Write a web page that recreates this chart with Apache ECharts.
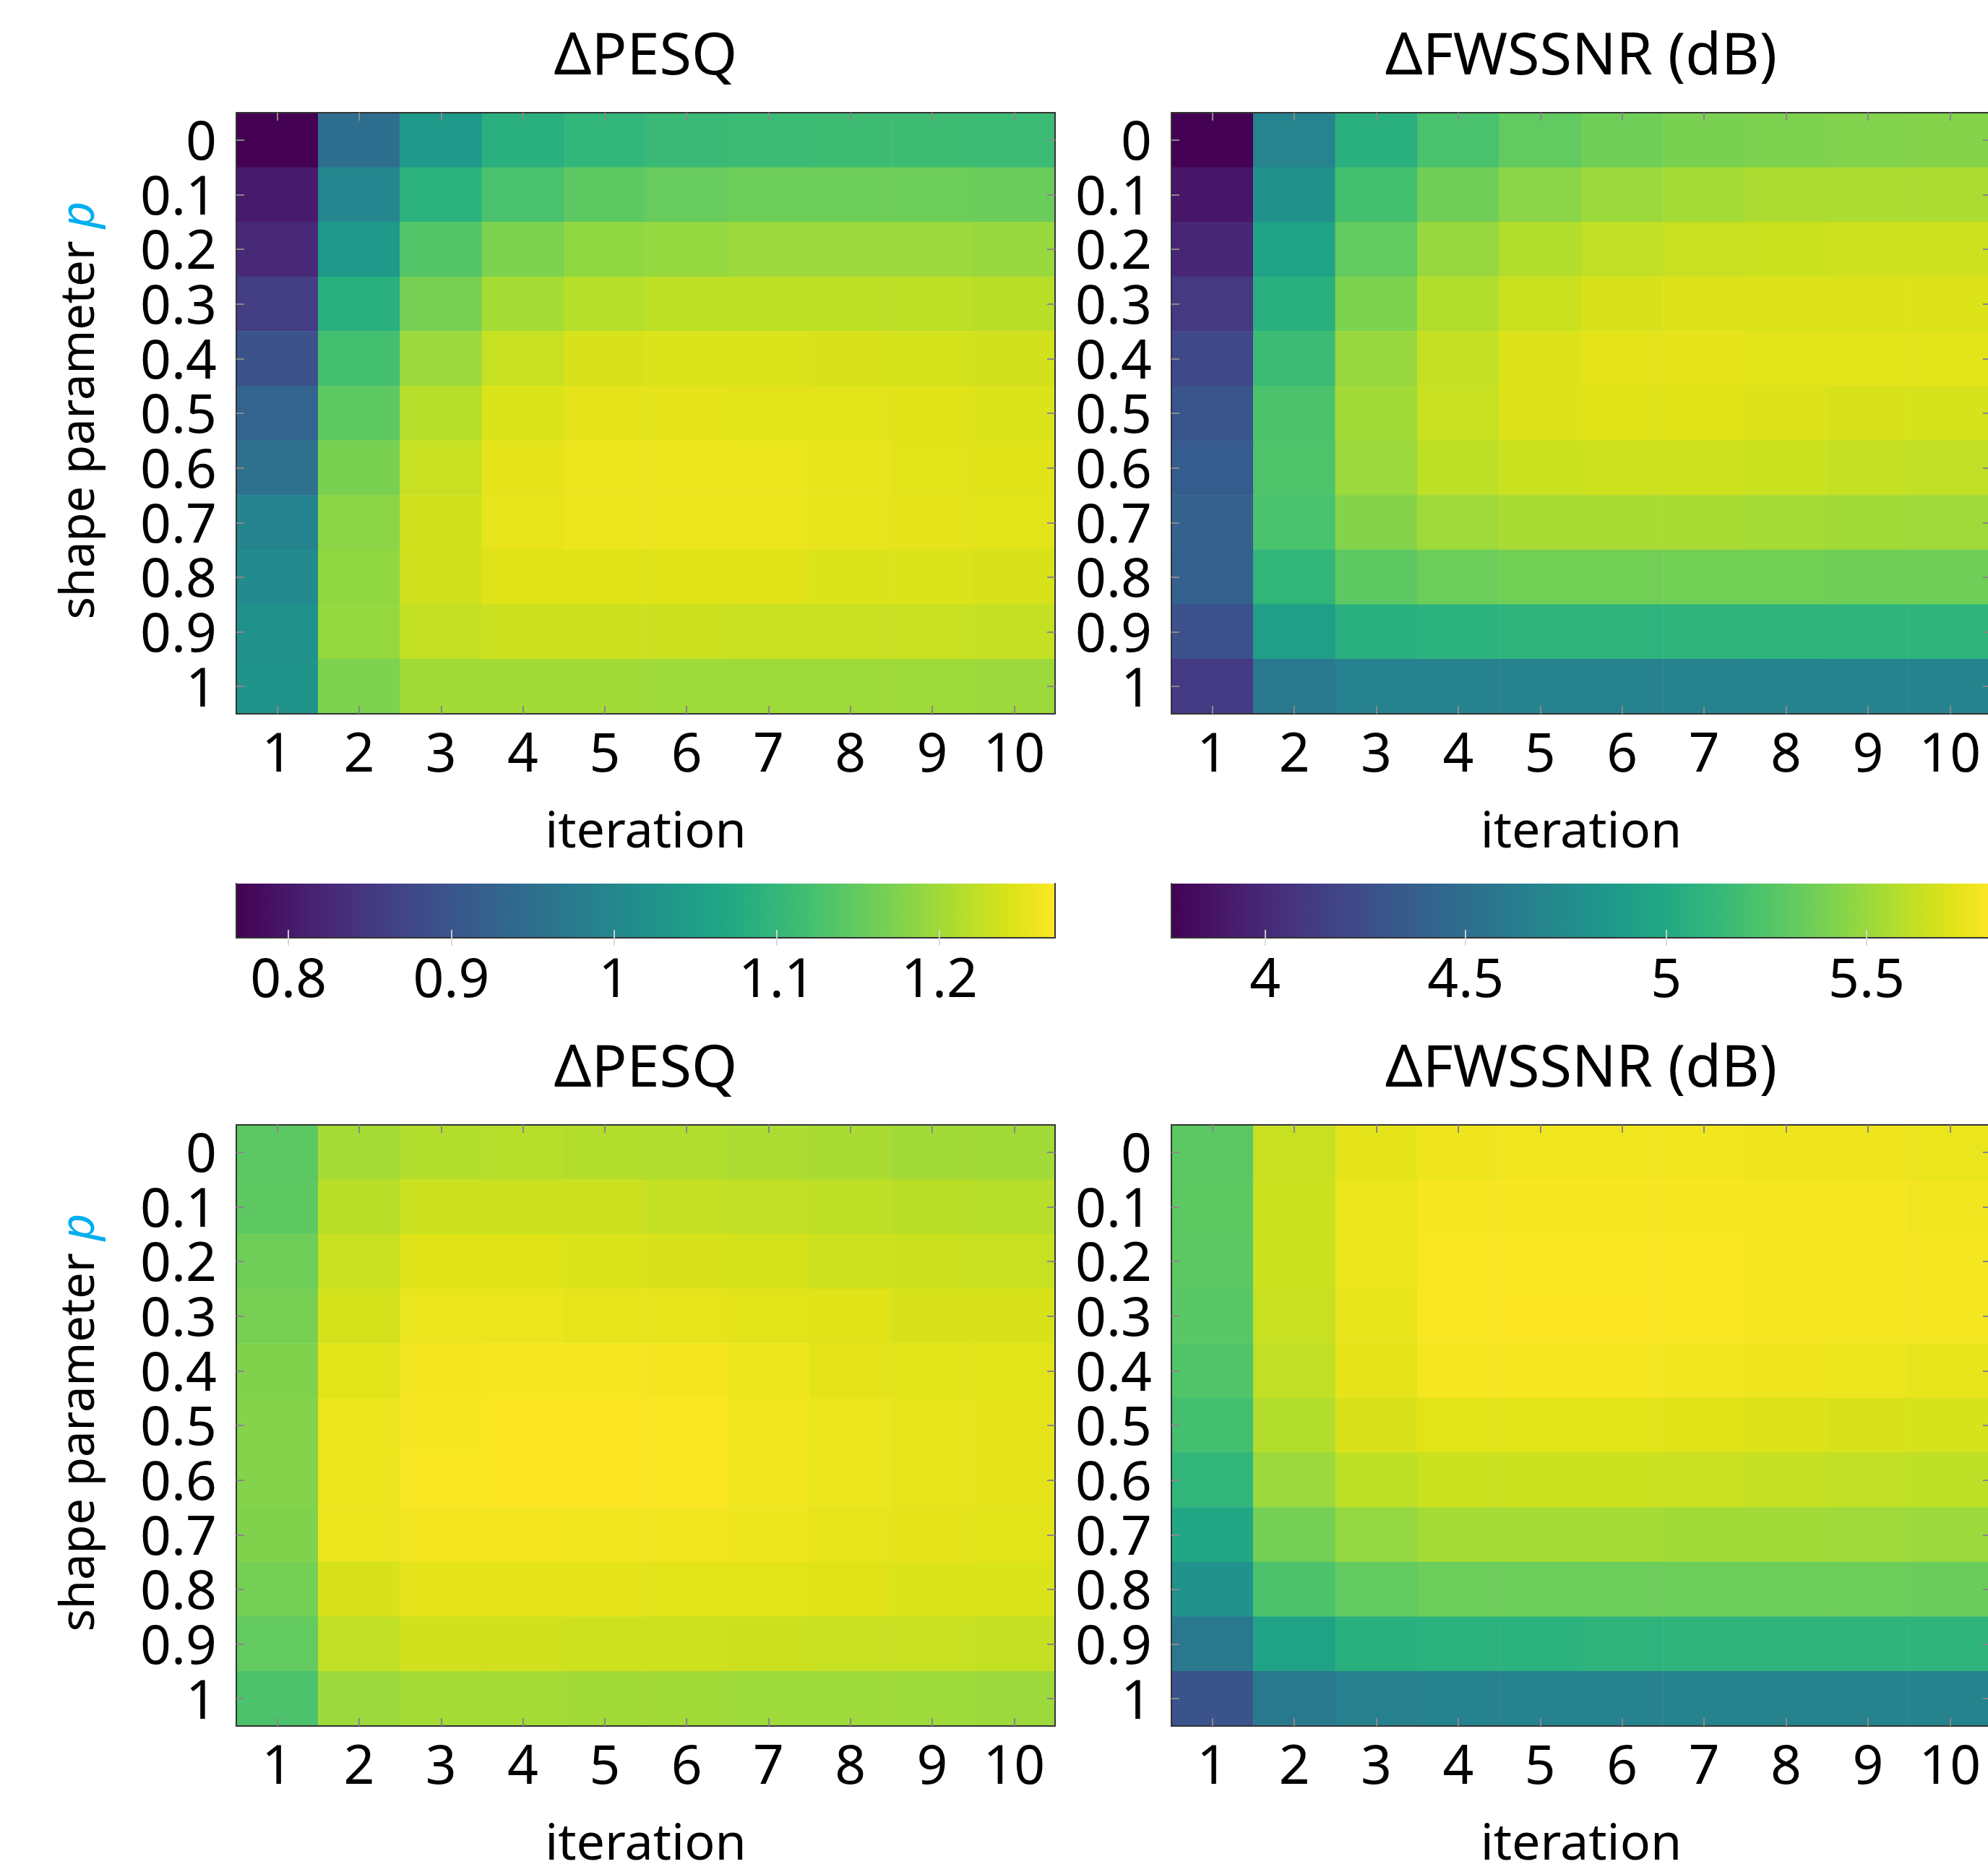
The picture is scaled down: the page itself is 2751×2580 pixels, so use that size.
<!DOCTYPE html>
<html>
<head>
<meta charset="utf-8">
<script src="https://cdn.jsdelivr.net/npm/echarts@6/dist/echarts.min.js"></script>
<style>
html,body{margin:0;padding:0;background:#fff;}
#chart{width:2751px;height:2580px;}
</style>
</head>
<body>
<div id="chart"></div>
<script>
// ---------------- data ----------------
const iterations = ['1','2','3','4','5','6','7','8','9','10'];
const pLabels = ['0','0.1','0.2','0.3','0.4','0.5','0.6','0.7','0.8','0.9','1'];

// shared colour-bar ranges (one per column)
const pesqRange = [0.768, 1.271];
const fwRange = [3.766, 5.81];
const pesqTicks = [0.8, 0.9, 1, 1.1, 1.2];
const fwTicks = [4, 4.5, 5, 5.5];

// rows: p = 0 ... 1, columns: iteration 1 ... 10
const pesqTop = [
  [0.768, 0.949, 1.040, 1.085, 1.100, 1.108, 1.110, 1.113, 1.113, 1.110],
  [0.803, 0.999, 1.090, 1.125, 1.145, 1.153, 1.158, 1.158, 1.158, 1.155],
  [0.826, 1.040, 1.135, 1.173, 1.188, 1.191, 1.196, 1.196, 1.196, 1.193],
  [0.859, 1.085, 1.168, 1.203, 1.216, 1.221, 1.221, 1.221, 1.221, 1.218],
  [0.894, 1.120, 1.196, 1.228, 1.241, 1.243, 1.243, 1.241, 1.238, 1.236],
  [0.929, 1.145, 1.216, 1.243, 1.251, 1.251, 1.248, 1.248, 1.246, 1.243],
  [0.954, 1.170, 1.228, 1.251, 1.258, 1.258, 1.256, 1.253, 1.248, 1.246],
  [0.992, 1.183, 1.236, 1.253, 1.258, 1.258, 1.256, 1.253, 1.251, 1.248],
  [1.007, 1.188, 1.236, 1.246, 1.246, 1.246, 1.246, 1.243, 1.243, 1.241],
  [1.020, 1.191, 1.226, 1.231, 1.231, 1.231, 1.228, 1.228, 1.228, 1.226],
  [1.025, 1.173, 1.201, 1.201, 1.201, 1.198, 1.198, 1.198, 1.198, 1.196]
];
const fwTop = [
  [3.766, 4.686, 5.054, 5.217, 5.309, 5.360, 5.401, 5.411, 5.422, 5.432],
  [3.889, 4.788, 5.197, 5.360, 5.452, 5.503, 5.534, 5.555, 5.555, 5.555],
  [3.981, 4.952, 5.309, 5.493, 5.575, 5.616, 5.636, 5.646, 5.657, 5.657],
  [4.103, 5.054, 5.411, 5.575, 5.646, 5.687, 5.698, 5.698, 5.698, 5.698],
  [4.205, 5.156, 5.493, 5.626, 5.698, 5.728, 5.728, 5.718, 5.718, 5.718],
  [4.297, 5.227, 5.524, 5.636, 5.698, 5.708, 5.708, 5.698, 5.687, 5.677],
  [4.359, 5.238, 5.503, 5.606, 5.646, 5.657, 5.657, 5.646, 5.626, 5.616],
  [4.400, 5.217, 5.432, 5.514, 5.544, 5.544, 5.544, 5.534, 5.524, 5.514],
  [4.389, 5.105, 5.299, 5.350, 5.370, 5.370, 5.370, 5.370, 5.360, 5.360],
  [4.267, 4.911, 5.054, 5.074, 5.084, 5.084, 5.084, 5.084, 5.095, 5.095],
  [4.113, 4.584, 4.665, 4.665, 4.665, 4.665, 4.665, 4.676, 4.676, 4.676]
];
const pesqBottom = [
  [1.143, 1.203, 1.213, 1.216, 1.213, 1.211, 1.208, 1.206, 1.201, 1.201],
  [1.145, 1.218, 1.231, 1.231, 1.231, 1.226, 1.223, 1.221, 1.218, 1.216],
  [1.160, 1.228, 1.246, 1.246, 1.243, 1.241, 1.238, 1.233, 1.231, 1.228],
  [1.168, 1.238, 1.256, 1.256, 1.253, 1.253, 1.248, 1.246, 1.241, 1.241],
  [1.175, 1.248, 1.263, 1.266, 1.266, 1.263, 1.258, 1.251, 1.248, 1.248],
  [1.178, 1.256, 1.266, 1.271, 1.271, 1.268, 1.261, 1.256, 1.253, 1.251],
  [1.178, 1.256, 1.268, 1.271, 1.271, 1.268, 1.261, 1.256, 1.253, 1.251],
  [1.175, 1.256, 1.263, 1.263, 1.261, 1.261, 1.258, 1.253, 1.251, 1.248],
  [1.165, 1.241, 1.251, 1.251, 1.251, 1.248, 1.248, 1.246, 1.243, 1.243],
  [1.150, 1.223, 1.236, 1.236, 1.233, 1.233, 1.231, 1.228, 1.228, 1.226],
  [1.128, 1.196, 1.203, 1.203, 1.201, 1.201, 1.198, 1.198, 1.198, 1.196]
];
const fwBottom = [
  [5.289, 5.636, 5.728, 5.759, 5.769, 5.769, 5.769, 5.759, 5.759, 5.749],
  [5.299, 5.646, 5.749, 5.790, 5.790, 5.790, 5.790, 5.779, 5.779, 5.769],
  [5.289, 5.646, 5.749, 5.800, 5.800, 5.800, 5.800, 5.790, 5.790, 5.779],
  [5.279, 5.636, 5.738, 5.800, 5.810, 5.810, 5.800, 5.790, 5.779, 5.779],
  [5.248, 5.616, 5.728, 5.779, 5.779, 5.779, 5.769, 5.759, 5.749, 5.738],
  [5.197, 5.575, 5.687, 5.718, 5.718, 5.718, 5.708, 5.698, 5.687, 5.677],
  [5.105, 5.503, 5.606, 5.646, 5.646, 5.646, 5.636, 5.626, 5.616, 5.606],
  [4.982, 5.381, 5.483, 5.534, 5.534, 5.534, 5.524, 5.524, 5.514, 5.503],
  [4.798, 5.227, 5.309, 5.350, 5.350, 5.350, 5.350, 5.350, 5.350, 5.340],
  [4.584, 4.941, 5.054, 5.074, 5.074, 5.084, 5.084, 5.095, 5.095, 5.095],
  [4.287, 4.594, 4.655, 4.665, 4.665, 4.665, 4.676, 4.676, 4.676, 4.676]
];

// ---------------- styling ----------------
const viridis = ['#440154','#471365','#482475','#463480','#414487','#3b528b','#355f8d','#2f6c8e',
  '#2a788e','#25848e','#21918c','#1e9c89','#22a884','#2fb47c','#44bf70','#5ec962','#7ad151',
  '#9bd93c','#bddf26','#dfe318','#fde725'];
const FONT = 'Noto Sans';
const TICK_FS = 75;
const TITLE_FS = 81;
const XNAME_FS = 70;
const YNAME_FS = 65;
const frameLine = {show: true, lineStyle: {color: '#333', width: 2}};
const tickStyle = {color: '#888', width: 2};

function toCells(rows) {
  const out = [];
  rows.forEach((row, yi) => row.forEach((v, xi) => out.push([xi, yi, v])));
  return out;
}

const L1 = 327, L2 = 1621, W = 1134;
const T1 = 156, T2 = 1557, H = 832;
const gridBase = {outerBoundsMode: 'none', containLabel: false};
const grids = [
  Object.assign({left: L1, top: T1, width: W - 1, height: H}, gridBase),
  Object.assign({left: L2, top: T1, width: W, height: H}, gridBase),
  Object.assign({left: L1, top: T2, width: W - 1, height: H}, gridBase),
  Object.assign({left: L2, top: T2, width: W, height: H}, gridBase),
  Object.assign({left: L1, top: 1223, width: W - 1, height: 75}, gridBase),
  Object.assign({left: L2, top: 1223, width: W, height: 75}, gridBase)
];

const xAxes = [], yAxes = [];
const titles = ['\u0394PESQ', '\u0394FWSSNR (dB)', '\u0394PESQ', '\u0394FWSSNR (dB)'];
for (let g = 0; g < 4; g++) {
  xAxes.push({
    gridIndex: g, type: 'category', data: iterations, position: 'bottom', z: 10,
    axisLine: frameLine,
    axisTick: {show: true, inside: true, length: 11, alignWithLabel: true, interval: 0, lineStyle: tickStyle},
    axisLabel: {fontFamily: FONT, fontSize: TICK_FS, color: '#000', margin: 21, interval: 0, hideOverlap: false},
    splitLine: {show: false},
    name: 'iteration', nameLocation: 'middle', nameGap: 130,
    nameTextStyle: {fontFamily: FONT, fontSize: XNAME_FS, color: '#000'}
  });
  xAxes.push({
    gridIndex: g, type: 'category', data: iterations, position: 'top', z: 10,
    axisLine: frameLine,
    axisTick: {show: true, inside: true, length: 11, alignWithLabel: true, interval: 0, lineStyle: tickStyle},
    axisLabel: {show: false}, splitLine: {show: false},
    name: titles[g], nameLocation: 'middle', nameGap: 36,
    nameTextStyle: {fontFamily: FONT, fontSize: TITLE_FS, color: '#000'}
  });
  const left = {
    gridIndex: g, type: 'category', data: pLabels, inverse: true, position: 'left', z: 10,
    axisLine: frameLine,
    axisTick: {show: true, inside: true, length: 11, alignWithLabel: true, interval: 0, lineStyle: tickStyle},
    axisLabel: {fontFamily: FONT, fontSize: TICK_FS, color: '#000', margin: 27, interval: 0,
      hideOverlap: false, verticalAlign: 'top', lineHeight: 12},
    splitLine: {show: false}
  };
  if (g % 2 === 0) {
    Object.assign(left, {
      name: '{a|shape parameter }{b|p}', nameLocation: 'middle', nameGap: 183, nameRotate: 90,
      nameTextStyle: {
        fontFamily: FONT, fontSize: YNAME_FS, color: '#000', padding: [0, 0, 0, 8],
        rich: {
          a: {fontFamily: FONT, fontSize: YNAME_FS, color: '#000'},
          b: {fontFamily: FONT, fontSize: YNAME_FS, color: '#00AEEF', fontStyle: 'italic'}
        }
      }
    });
  }
  yAxes.push(left);
  yAxes.push({
    gridIndex: g, type: 'category', data: pLabels, inverse: true, position: 'right', z: 10,
    axisLine: frameLine,
    axisTick: {show: true, inside: true, length: 11, alignWithLabel: true, interval: 0, lineStyle: tickStyle},
    axisLabel: {show: false}, splitLine: {show: false}
  });
}
// colour-bar axes
[[4, pesqRange, pesqTicks], [5, fwRange, fwTicks]].forEach(([g, range, ticks]) => {
  const cbTick = {show: true, inside: true, length: 11, customValues: ticks,
    lineStyle: {color: 'rgba(215,215,215,0.9)', width: 2}};
  xAxes.push({
    gridIndex: g, type: 'value', min: range[0], max: range[1], position: 'bottom', z: 10,
    axisLine: frameLine, axisTick: cbTick,
    axisLabel: {customValues: ticks, fontFamily: FONT, fontSize: TICK_FS, color: '#000', margin: 23},
    splitLine: {show: false}
  });
  xAxes.push({
    gridIndex: g, type: 'value', min: range[0], max: range[1], position: 'top', z: 10,
    axisLine: frameLine, axisTick: cbTick, axisLabel: {show: false}, splitLine: {show: false}
  });
  yAxes.push({gridIndex: g, type: 'value', min: 0, max: 1, position: 'left', z: 10,
    axisLine: frameLine, axisTick: {show: false}, axisLabel: {show: false}, splitLine: {show: false}});
  yAxes.push({gridIndex: g, type: 'value', min: 0, max: 1, position: 'right', z: 10,
    axisLine: frameLine, axisTick: {show: false}, axisLabel: {show: false}, splitLine: {show: false}});
});

const heat = (xi, yi, rows) => ({
  type: 'heatmap', xAxisIndex: xi, yAxisIndex: yi, data: toCells(rows),
  itemStyle: {borderWidth: 0}, emphasis: {disabled: true}, progressive: 0, animation: false
});

const gradStops = viridis.map((c, i) => ({offset: i / (viridis.length - 1), color: c}));
const colorbar = (xi, yi, range) => ({
  type: 'custom', xAxisIndex: xi, yAxisIndex: yi, data: [[range[0], range[1]]], silent: true,
  renderItem: function (params, api) {
    const p0 = api.coord([api.value(0), 0]);
    const p1 = api.coord([api.value(1), 1]);
    return {
      type: 'rect',
      shape: {x: p0[0], y: p1[1], width: p1[0] - p0[0], height: p0[1] - p1[1]},
      style: {fill: new echarts.graphic.LinearGradient(0, 0, 1, 0, gradStops)}
    };
  }
});

const chart = echarts.init(document.getElementById('chart'), null, {renderer: 'canvas'});
chart.setOption({
  animation: false,
  backgroundColor: '#fff',
  grid: grids,
  xAxis: xAxes,
  yAxis: yAxes,
  visualMap: [
    {show: false, type: 'continuous', min: pesqRange[0], max: pesqRange[1], seriesIndex: [0, 2],
     dimension: 2, inRange: {color: viridis}},
    {show: false, type: 'continuous', min: fwRange[0], max: fwRange[1], seriesIndex: [1, 3],
     dimension: 2, inRange: {color: viridis}}
  ],
  series: [
    heat(0, 0, pesqTop),
    heat(2, 2, fwTop),
    heat(4, 4, pesqBottom),
    heat(6, 6, fwBottom),
    colorbar(8, 8, pesqRange),
    colorbar(10, 10, fwRange)
  ]
});
</script>
</body>
</html>
